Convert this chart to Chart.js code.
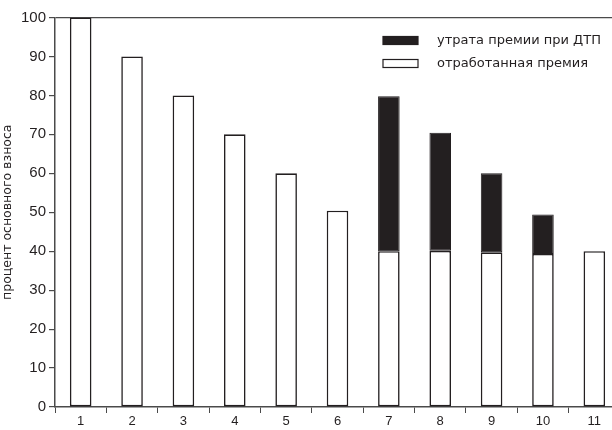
<!DOCTYPE html>
<html><head><meta charset="utf-8">
<script src="https://cdn.jsdelivr.net/npm/chart.js@4/dist/chart.umd.min.js"></script>
<style>
html,body{margin:0;padding:0;background:#fff;overflow:hidden;width:612px;height:430px}
#wrap{position:absolute;left:0;top:0;width:620px;height:430px}
</style>
</head><body>
<div id="wrap"><canvas id="c"></canvas></div>
<script>
const categories = ['1','2','3','4','5','6','7','8','9','10','11'];
const earnedPremium = [100, 90, 80, 70, 60, 50.4, 40, 40.1, 39.7, 39.3, 40];
const lostPremium = [null, null, null, null, null, null, 39.8, 30.3, 20.3, 10.1, null];
const seriesLabels = ['отработанная премия', 'утрата премии при ДТП'];
const yAxisTitle = 'процент основного взноса';

const INK = '#231f20';
const AXIS = '#4a4a4a';
const FONT = "'Liberation Sans', Arial, sans-serif";
const TFONT = "'DejaVu Sans', sans-serif";

const legendPlugin = {
  id: 'innerLegend',
  afterDraw(chart) {
    const ctx = chart.ctx;
    const ca = chart.chartArea;
    const items = chart.data.datasets.slice().reverse();
    const x0 = ca.right - 237;
    ctx.save();
    ctx.font = '13px ' + TFONT;
    ctx.textBaseline = 'middle';
    items.forEach((ds, i) => {
      const y = ca.top + 23 + i * 23;
      ctx.fillStyle = ds.backgroundColor;
      ctx.fillRect(x0, y - 4, 35, 8);
      ctx.lineWidth = 1.2;
      ctx.strokeStyle = INK;
      ctx.strokeRect(x0, y - 4, 35, 8);
      ctx.fillStyle = INK;
      ctx.fillText(ds.label, x0 + 54, y);
    });
    ctx.restore();
  }
};

new Chart(document.getElementById('c'), {
  type: 'bar',
  data: {
    labels: categories,
    datasets: [
      {
        label: seriesLabels[0],
        data: earnedPremium,
        backgroundColor: '#ffffff',
        borderColor: INK,
        borderWidth: 1.6,
        borderSkipped: false,
        barPercentage: 0.42,
        categoryPercentage: 1.0
      },
      {
        label: seriesLabels[1],
        data: lostPremium,
        backgroundColor: INK,
        borderColor: INK,
        borderWidth: 1,
        borderSkipped: false,
        barPercentage: 0.42,
        categoryPercentage: 1.0
      }
    ]
  },
  options: {
    responsive: true,
    maintainAspectRatio: false,
    animation: false,
    layout: { padding: { top: 17.5, right: 0, left: 0, bottom: 0 } },
    plugins: { legend: { display: false }, tooltip: { enabled: false } },
    scales: {
      x: {
        stacked: true,
        grid: { display: true, drawOnChartArea: false, offset: true, tickLength: 6, color: AXIS, lineWidth: 1 },
        border: { display: true, color: AXIS, width: 1.5 },
        ticks: { color: INK, font: { family: FONT, size: 13 }, padding: 1, maxRotation: 0 },
        afterFit(s) { s.height = 23; }
      },
      y: {
        stacked: true,
        min: 0, max: 100,
        grid: {
          drawOnChartArea: true,
          drawTicks: true,
          tickLength: 6,
          color: c => (c.tick && c.tick.value === 100) ? AXIS : 'rgba(0,0,0,0)',
          tickColor: AXIS,
          lineWidth: 1.2
        },
        border: { display: true, color: AXIS, width: 1.5 },
        ticks: { stepSize: 10, color: INK, font: { family: FONT, size: 15 }, padding: 3 },
        title: { display: true, text: yAxisTitle, color: INK, font: { family: TFONT, size: 12.5 }, padding: { top: 0, bottom: 0 } },
        afterFit(s) { s.width = 55; }
      }
    }
  },
  plugins: [legendPlugin]
});
</script>
</body></html>
